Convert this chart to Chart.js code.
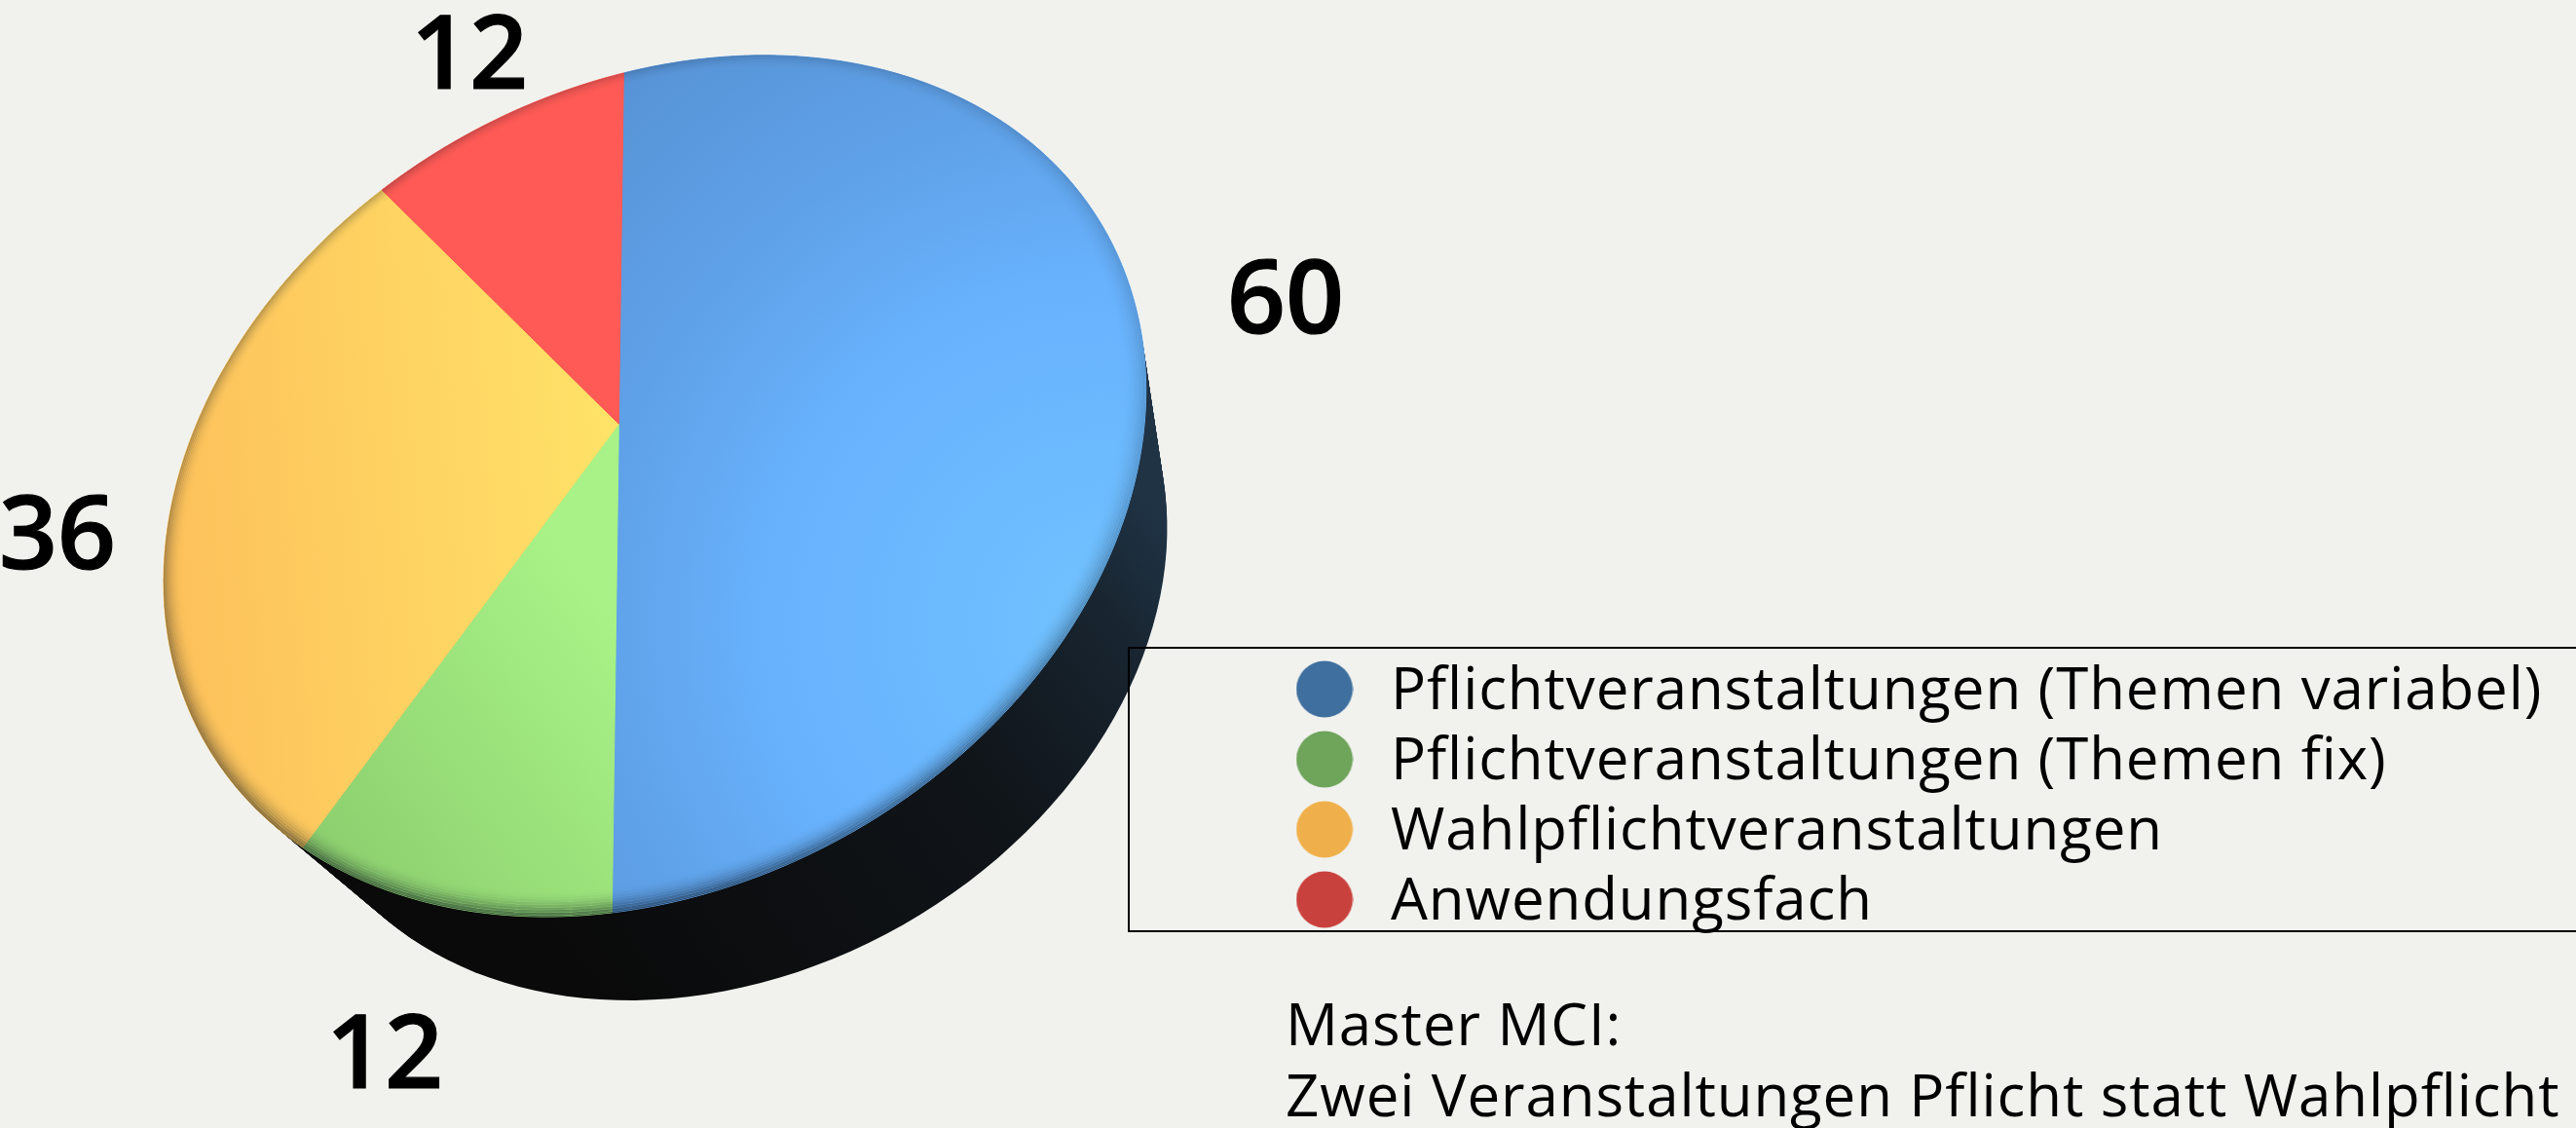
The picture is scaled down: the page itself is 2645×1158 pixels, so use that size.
<!DOCTYPE html>
<html>
<head>
<meta charset="utf-8">
<title>Master MCI</title>
<style>
  html, body { margin: 0; padding: 0; background: #f1f2ee; overflow: hidden; }
  canvas { display: block; }
</style>
<script src="https://cdn.jsdelivr.net/npm/chart.js@4/dist/chart.umd.js"></script>
</head>
<body>
<canvas id="myChart" width="2645" height="1158"></canvas>
<script>
var categories = [
  "Pflichtveranstaltungen (Themen variabel)",
  "Pflichtveranstaltungen (Themen fix)",
  "Wahlpflichtveranstaltungen",
  "Anwendungsfach"
];
var seriesValues = [60, 12, 36, 12];
var legendColors = ["#3f6f9f", "#6fa45b", "#efb04c", "#c9413d"];
var noteLines = ["Master MCI:", "Zwei Veranstaltungen Pflicht statt Wahlpflicht"];

// where the number of each slice sits on the page (centre x, baseline y)
var valueLabelPos = [[1320, 342], [395, 1117], [59, 584], [482, 91]];

var FONT = '"Open Sans", sans-serif';
var TRACKING = "0.9px";

// the pie is a tilted disc: unit circle -> page, fitted on the slice corners
var anchors = [
  [0, -1, 641, 75],
  [0, 1, 629, 937],
  [-0.5878, 0.809, 311, 870],
  [-0.5878, -0.809, 392, 195],
  [0, 0, 634, 435]
];

function fitHomography(pts) {
  var n = 8, A = [], i, j, k;
  for (i = 0; i < n; i++) { A.push(new Array(n + 1).fill(0)); }
  pts.forEach(function (p) {
    var u = p[0], v = p[1], x = p[2], y = p[3];
    [[u, v, 1, 0, 0, 0, -u * x, -v * x, x], [0, 0, 0, u, v, 1, -u * y, -v * y, y]].forEach(function (r) {
      for (i = 0; i < n; i++) {
        for (j = 0; j <= n; j++) { A[i][j] += r[i] * r[j]; }
      }
    });
  });
  for (i = 0; i < n; i++) {
    var best = i;
    for (k = i + 1; k < n; k++) { if (Math.abs(A[k][i]) > Math.abs(A[best][i])) best = k; }
    var tmp = A[i]; A[i] = A[best]; A[best] = tmp;
    for (k = 0; k < n; k++) {
      if (k === i) continue;
      var f = A[k][i] / A[i][i];
      for (j = i; j <= n; j++) { A[k][j] -= f * A[i][j]; }
    }
  }
  return A.map(function (row, idx) { return row[n] / row[idx]; });
}

var H = fitHomography(anchors);

function project(u, v) {
  var w = H[6] * u + H[7] * v + 1;
  return [(H[0] * u + H[1] * v + H[2]) / w, (H[3] * u + H[4] * v + H[5]) / w];
}

function discPath(ctx, r, scale) {
  // scale shrinks the disc toward the vanishing point, for the bottom of the body
  ctx.beginPath();
  for (var i = 0; i <= 180; i++) {
    var a = i / 180 * Math.PI * 2;
    var p = project(r * Math.cos(a), r * Math.sin(a));
    var x = 1388 + scale * (p[0] - 1388), y = 1775 + scale * (p[1] - 1775);
    if (i === 0) ctx.moveTo(x, y); else ctx.lineTo(x, y);
  }
  ctx.closePath();
}

// arcs are drawn through the same projection
Chart.ArcElement.prototype.draw = function (ctx) {
  var steps = Math.max(2, Math.round((this.endAngle - this.startAngle) * 40));
  var c = project(0, 0);
  ctx.save();
  ctx.beginPath();
  ctx.moveTo(c[0], c[1]);
  for (var i = 0; i <= steps; i++) {
    var a = this.startAngle + (this.endAngle - this.startAngle) * i / steps;
    var p = project(Math.cos(a), Math.sin(a));
    ctx.lineTo(p[0], p[1]);
  }
  ctx.closePath();
  ctx.fillStyle = this.options.backgroundColor;
  ctx.strokeStyle = this.options.backgroundColor;
  ctx.lineWidth = 1;
  ctx.fill();
  ctx.stroke();
  ctx.restore();
};

function sliceFill(context) {
  var ctx = context.chart.ctx, g;
  switch (context.dataIndex) {
    case 0:
      g = ctx.createRadialGradient(1140, 640, 0, 1140, 640, 860);
      g.addColorStop(0, "#72c3ff");
      g.addColorStop(0.2, "#6cbaff");
      g.addColorStop(0.4, "#68b2fd");
      g.addColorStop(0.62, "#5fa1e8");
      g.addColorStop(0.87, "#5793d6");
      return g;
    case 1:
      g = ctx.createLinearGradient(330, 860, 630, 640);
      g.addColorStop(0, "#8dd06f");
      g.addColorStop(1, "#a8f287");
      return g;
    case 2:
      g = ctx.createLinearGradient(170, 500, 640, 460);
      g.addColorStop(0, "#fdc15b");
      g.addColorStop(1, "#ffe368");
      return g;
    default:
      return "#ff5a55";
  }
}

function makeDot(color) {
  // taller than the dot so it sits a little above the text middle
  var c = document.createElement("canvas");
  c.width = 59; c.height = 65;
  var x = c.getContext("2d");
  x.fillStyle = color;
  x.beginPath();
  x.arc(29.5, 29.5, 29, 0, Math.PI * 2);
  x.fill();
  return c;
}

var pie3d = {
  id: "pie3d",
  afterLayout: function (chart) {
    var lg = chart.legend;
    lg.left = 1310; lg.right = 2645;
    lg.top = 637; lg.bottom = 1000;
  },
  beforeDraw: function (chart) {
    chart.ctx.letterSpacing = TRACKING;
  },
  beforeDatasetsDraw: function (chart) {
    var ctx = chart.ctx;
    var g = ctx.createLinearGradient(600, 1000, 1200, 540);
    g.addColorStop(0, "#0a0a0a");
    g.addColorStop(0.6, "#10151a");
    g.addColorStop(0.85, "#18242f");
    g.addColorStop(1, "#1f3345");
    ctx.save();
    ctx.fillStyle = g;
    for (var i = 0; i <= 60; i++) {
      discPath(ctx, 1, 1 - (1 - 0.897) * i / 60);
      ctx.fill();
    }
    ctx.restore();
  },
  afterDatasetsDraw: function (chart) {
    var ctx = chart.ctx;
    // bevel on the rim of the top face, stronger toward the bottom
    ctx.save();
    discPath(ctx, 1, 1);
    ctx.clip();
    ctx.lineWidth = 2.5;
    for (var i = 0; i < 10; i++) {
      var k = (1 - i / 10) * (1 - i / 10);
      var g = ctx.createLinearGradient(0, 60, 0, 940);
      g.addColorStop(0, "rgba(10,20,30," + 0.1 * k + ")");
      g.addColorStop(0.5, "rgba(10,20,30," + 0.22 * k + ")");
      g.addColorStop(1, "rgba(10,20,30," + 0.6 * k + ")");
      ctx.strokeStyle = g;
      discPath(ctx, 1 - i * 0.0045, 1);
      ctx.stroke();
    }
    ctx.restore();

    // legend frame runs off the right edge
    ctx.save();
    ctx.strokeStyle = "#000";
    ctx.lineWidth = 2;
    ctx.strokeRect(1159, 665, 1500, 291);
    ctx.restore();
  },
  afterDraw: function (chart) {
    var ctx = chart.ctx;
    ctx.save();
    ctx.fillStyle = "#000";
    ctx.strokeStyle = "#000";
    ctx.lineWidth = 1.2;
    ctx.textAlign = "center";
    ctx.textBaseline = "alphabetic";
    ctx.letterSpacing = "0px";
    ctx.font = "600 105px " + FONT;
    seriesValues.forEach(function (v, i) {
      ctx.fillText(String(v), valueLabelPos[i][0], valueLabelPos[i][1]);
      ctx.strokeText(String(v), valueLabelPos[i][0], valueLabelPos[i][1]);
    });
    ctx.textAlign = "left";
    ctx.letterSpacing = TRACKING;
    ctx.font = "400 60px " + FONT;
    ctx.fillText(noteLines[0], 1320, 1073);
    ctx.fillText(noteLines[1], 1320, 1146);
    ctx.restore();
  }
};

new Chart("myChart", {
  type: "pie",
  data: {
    labels: categories,
    datasets: [{
      data: seriesValues,
      backgroundColor: sliceFill,
      borderWidth: 0
    }]
  },
  options: {
    responsive: false,
    animation: false,
    plugins: {
      tooltip: { enabled: false },
      legend: {
        display: true,
        position: "right",
        labels: {
          usePointStyle: true,
          pointStyleWidth: 76,
          padding: 12,
          color: "#000",
          font: { family: FONT, size: 60, weight: "400" },
          generateLabels: function () {
            return categories.map(function (c, i) {
              return { text: c, index: i, fillStyle: legendColors[i], pointStyle: makeDot(legendColors[i]), lineWidth: 0 };
            });
          }
        }
      }
    }
  },
  plugins: [pie3d]
});
</script>
</body>
</html>
